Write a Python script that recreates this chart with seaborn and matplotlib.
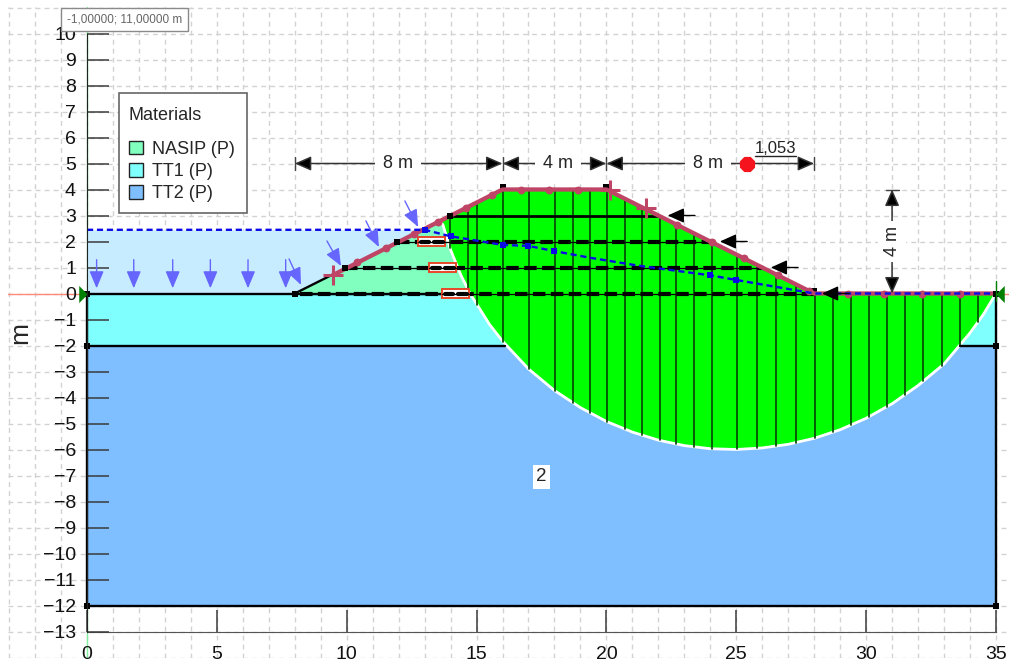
import numpy as np
import pandas as pd
import matplotlib
matplotlib.use('Agg')
import matplotlib.pyplot as plt
from matplotlib.patches import Patch, Rectangle
import seaborn as sns

# ground and layers
surface_x = [0, 8, 16, 20, 28, 35]
surface_y = [0, 0, 4, 4, 0, 0]
layer_names = ['NASIP (P)', 'TT1 (P)', 'TT2 (P)']
layer_colors = ['#80FFBF', '#80FFFF', '#80BFFF']

# water level
water_x = [0, 13.0, 14.0, 16.0, 17.0, 18.0, 19.4, 21.3, 24.0, 25.0, 28.0, 35.0]
water_y = [2.45, 2.45, 2.2, 1.87, 1.83, 1.63, 1.37, 1.06, 0.7, 0.52, 0.0, 0.0]
water_nodes_x = [13.0, 14.0, 16.0, 17.0, 18.0, 24.0, 25.0, 35.0]
water_nodes_y = [2.45, 2.2, 1.87, 1.83, 1.63, 0.7, 0.52, 0.0]

# slip surface
slip_x = [13.7, 14.0, 14.4, 14.75, 15.5, 16, 17, 18, 19, 20, 21, 22, 23, 24, 25,
          26, 27, 28, 29, 30, 31, 32, 33, 34, 34.5, 35]
slip_y = [2.66, 1.68, 0.70, 0.0, -1.19, -1.83, -2.90, -3.73, -4.39, -4.92, -5.33,
          -5.64, -5.85, -5.97, -6.0, -5.94, -5.80, -5.57, -5.24, -4.80, -4.24,
          -3.54, -2.71, -1.52, -0.83, 0.0]
slices = [13.98, 14.67, 15.02, 16.02, 17.02, 18.02, 18.71, 19.37, 20.02, 20.72, 21.37,
          22.06, 22.68, 23.37, 24.07, 25.03, 25.8, 26.53, 27.3, 28.03, 28.73, 29.42,
          30.11, 30.8, 31.5, 32.19, 32.92, 33.62, 34.31]

# reinforcements
reinf_y = [3, 2, 1, 0]
reinf_start = [13.98, 11.93, 9.93, 8.2]
reinf_end = [22.06, 24.07, 26.03, 28.0]
rect_left = [12.75, 13.17, 13.67]
rect_y = [2, 1, 0]

# loads
load_x = [0.37, 1.8, 3.3, 4.75, 6.2, 7.65]
normal_tail = [(7.78, 1.33), (9.24, 2.02), (10.74, 2.79), (12.24, 3.56)]
normal_tip = [(8.24, 0.33), (9.78, 1.06), (11.24, 1.79), (12.75, 2.56)]

# pink strip along the surface
strip_x = [9.47, 16, 20, 28, 35]
strip_y = [0.71, 4, 4, 0, 0]
strip_dots = [10.4, 11.5, 12.6, 13.5, 14.6, 15.6, 16.7, 17.8, 18.9, 22.7, 24.07, 25.3,
              26.6, 27.8, 29.3, 30.7, 32.15, 33.6]
cross_x = [9.47, 20.14, 21.52]
cross_y = [0.71, 3.98, 3.29]

node_x = [0, 8, 0, 35, 0, 35, 35, 13.98, 11.93, 9.93]
node_y = [0, 0, -2, -2, -12, -12, 0, 3, 2, 1]
under_node_x = [16, 20, 28]
under_node_y = [4.08, 4.08, 0.08]

sns.set_style('white')
plt.rcParams['font.family'] = ['Liberation Sans', 'DejaVu Sans']

W, H = 1018, 663
sx, sy = 25.97, 26.0
x0, y0 = 87, 293.5
xmin, xmax, ymin, ymax = -3.03, 35.52, -14.03, 11.03
fig = plt.figure(figsize=(W / 100, H / 100), dpi=100)
ax = fig.add_axes([(x0 + xmin * sx) / W, 1 - (y0 - ymin * sy) / H,
                   (xmax - xmin) * sx / W, (ymax - ymin) * sy / H])
ax.set_xlim(xmin, xmax)
ax.set_ylim(ymin, ymax)

# grid, drawn by hand so the ticks can stay above the layers
grid_style = dict(color='#D2D2D2', linestyle=(0, (3.5, 3)), linewidth=1, zorder=0.5)
for gx in range(-3, 36):
    ax.axvline(gx, **grid_style)
for gy in range(-14, 12):
    ax.axhline(gy, **grid_style)

ax.set_xticks(range(0, 36, 5))
ax.set_yticks(range(-13, 11))
ax.set_axisbelow(False)
ax.tick_params(axis='both', which='major', direction='in', length=16, width=1.1,
               left=True, bottom=True, color='#3A3A3A', labelsize=14, labelcolor='#111111', pad=8)
ax.tick_params(axis='x', pad=10.5)
for sp in ['top', 'right']:
    ax.spines[sp].set_visible(False)
ax.spines['left'].set_position(('data', 0))
ax.spines['left'].set_bounds(-13, 10)
ax.spines['bottom'].set_position(('data', -13))
ax.spines['bottom'].set_bounds(0, 35)
ax.spines['left'].set_color('#222222')
ax.spines['bottom'].set_color('#555555')
ax.spines['left'].set_zorder(9)
ax.text(-2.58, -1.52, 'm', rotation=90, fontsize=19, ha='center', va='center')

ax.axhline(0, color='#FF8A78', lw=1, zorder=1)
ax.axvline(0, color='#80F0A0', lw=1, zorder=1)

# layers
ax.fill_between([0, 35], -12, -2, color=layer_colors[2], lw=0, zorder=2)
ax.fill_between([0, 35], -2, 0, color=layer_colors[1], lw=0, zorder=2)
ax.fill_between(surface_x, 0, surface_y, color=layer_colors[0], lw=0, zorder=2)

# water above the ground
wx = np.linspace(0, 13.0, 60)
ax.fill_between(wx, np.interp(wx, surface_x, surface_y), np.interp(wx, water_x, water_y),
                color='#C8ECFF', lw=0, zorder=2)

# slip mass
top_x = [13.7, 16, 20, 28, 35]
top_y = [2.85, 4, 4, 0, 0]
ax.fill(slip_x + top_x[::-1], slip_y + top_y[::-1], color='#00FF00', lw=0, zorder=3)
sns.lineplot(x=slip_x, y=slip_y, sort=False, estimator=None, color='white', lw=2, ax=ax, zorder=4)

# slices
bot = np.interp(slices, slip_x, slip_y)
top = np.interp(slices, surface_x, surface_y)
sl = pd.DataFrame({'x': np.repeat(slices, 2), 'y': np.column_stack([top, bot]).ravel(),
                   'id': np.repeat(np.arange(len(slices)), 2)})
sns.lineplot(data=sl, x='x', y='y', units='id', estimator=None, sort=False,
             color='#084A08', lw=1.25, ax=ax, zorder=5)

# boundaries
boundary = pd.DataFrame({'x': [0, 14.75, 0, 16.1, 33.6, 35, 0, 35, 0, 0, 35, 35, 8, 9.5, 20, 21.5],
                         'y': [0, 0, -2, -2, -2, -2, -12, -12, 0, -12, 0, -12, 0, 0.75, 4, 3.25],
                         'id': np.repeat(np.arange(8), 2)})
sns.lineplot(data=boundary, x='x', y='y', units='id', estimator=None, sort=False,
             color='black', lw=1.7, ax=ax, zorder=5)
ax.plot([28, 35], [0, 0], color='black', lw=1.2, zorder=5)

# reinforcements
force = dict(arrowstyle='-|>,head_length=1.0,head_width=0.45', fc='black', ec='black', lw=1,
             shrinkA=0, shrinkB=0)
for y, a, b in zip(reinf_y, reinf_start, reinf_end):
    if y == 3:
        ax.plot([a, b], [y, y], color='black', lw=2, zorder=6, solid_capstyle='butt')
    else:
        ax.plot([a, b], [y, y], color='black', lw=0.9, zorder=6)
        ax.plot([a, b], [y, y], color='black', lw=3, linestyle=(0, (3.0, 1.3)), zorder=6)
    # force arrow at the end
    ax.annotate('', xy=(b + 0.3, y), xytext=(b + 1.35, y), zorder=9, arrowprops=force)

# boxes where reinforcements cross the slip
for a, y in zip(rect_left, rect_y):
    ax.add_patch(Rectangle((a, y - 0.165), 1.05, 0.33, fc='white', ec='#E8472A', lw=1.4, zorder=6.5))
    ax.plot([a, a + 1.05], [y, y], color='black', lw=0.9, zorder=6.6)
    ax.plot([a + 0.1, a + 0.42], [y, y], color='black', lw=3, zorder=6.6)
    ax.plot([a + 0.6, a + 0.95], [y, y], color='black', lw=3, zorder=6.6)

# water line
sns.lineplot(x=water_x, y=water_y, sort=False, estimator=None, color='#0A0AE6', lw=1.7,
             linestyle=(0, (2.6, 1.6)), ax=ax, zorder=7)
sns.scatterplot(x=water_nodes_x, y=water_nodes_y, color='#0A0AE6', marker='s', s=14, lw=0, ax=ax, zorder=7.5)

# pink strip
pink = '#BE4565'
sns.scatterplot(x=under_node_x, y=under_node_y, color='black', marker='s', s=14, lw=0, ax=ax, zorder=6.7)
sns.lineplot(x=strip_x, y=strip_y, sort=False, estimator=None, color=pink, lw=3.1, ax=ax, zorder=6.8)
sns.scatterplot(x=strip_dots, y=np.interp(strip_dots, surface_x, surface_y), color=pink, s=32, lw=0, ax=ax, zorder=6.9)
sns.scatterplot(x=cross_x, y=cross_y, color=pink, marker='+', s=190, linewidth=2.2, ax=ax, zorder=6.9)

# nodes
sns.scatterplot(x=node_x, y=node_y, color='black', marker='s', s=22, lw=0, ax=ax, zorder=8)

# load arrows
blue = '#6666FF'
arrow_style = dict(arrowstyle='-|>,head_length=1.05,head_width=0.44', fc=blue, ec=blue, lw=1,
                   shrinkA=0, shrinkB=0)
for x in load_x:
    ax.annotate('', xy=(x, 0.2), xytext=(x, 1.3), arrowprops=arrow_style, zorder=9)
for t, p in zip(normal_tail, normal_tip):
    ax.annotate('', xy=p, xytext=t, arrowprops=arrow_style, zorder=9)

# supports
sns.scatterplot(x=[-0.17], y=[0], color='#007F00', marker=[(-0.5, -1), (0.5, 0), (-0.5, 1)],
                s=150, lw=0, ax=ax, zorder=8.5)
sns.scatterplot(x=[35.17], y=[0], color='#007F00', marker=[(0.5, -1), (-0.5, 0), (0.5, 1)],
                s=150, lw=0, ax=ax, zorder=8.5)
ax.plot([35, 35], [-0.3, 0.5], color='#007F00', lw=1, zorder=8.4)

# dimensions
dim = dict(arrowstyle='-|>,head_length=1.0,head_width=0.44', fc='black', ec='#333333', lw=1.1,
           shrinkA=0, shrinkB=0)
dim_x = [8, 16, 20, 28]
dim_labels = ['8 m', '4 m', '8 m']
dim_text_x = [11.97, 18.14, 23.9]
for a, b, s, tx in zip(dim_x[:-1], dim_x[1:], dim_labels, dim_text_x):
    ax.annotate('', xy=(a, 5), xytext=(tx, 5), arrowprops=dim, zorder=6)
    ax.annotate('', xy=(b, 5), xytext=(tx, 5), arrowprops=dim, zorder=6)
    ax.text(tx, 5, s, ha='center', va='center', fontsize=13, zorder=7,
            bbox=dict(fc='white', ec='none', pad=5.8))
for x in dim_x:
    ax.plot([x, x], [4.75, 5.25], color='#444444', lw=1, zorder=6)

ax.annotate('', xy=(31, 4), xytext=(31, 2), arrowprops=dim, zorder=9)
ax.annotate('', xy=(31, 0), xytext=(31, 2), arrowprops=dim, zorder=9)
ax.plot([30.75, 31.25], [4, 4], color='#444444', lw=1, zorder=6)
ax.text(31, 2, '4 m', rotation=90, ha='center', va='center', fontsize=13, zorder=10,
        bbox=dict(fc='white', ec='none', pad=4))

# safety factor
sns.scatterplot(x=[25.4], y=[5], color='#F5141E', marker='8', s=140, lw=0, ax=ax, zorder=8)
ax.text(26.5, 5.27, '1,053', fontsize=12, ha='center', va='bottom', color='#222222', zorder=8)
ax.plot([25.73, 27.3], [5.3, 5.3], color='#222222', lw=1, zorder=8)

ax.text(17.5, -7.05, '2', fontsize=13.5, ha='center', va='center', zorder=8,
        bbox=dict(fc='white', ec='none', pad=2.5))

# coordinates box
ax.text(-0.77, 10.54, '-1,00000; 11,00000 m', fontsize=8.5, color='#666666', ha='left', va='center', zorder=12,
        bbox=dict(fc='white', ec='#8A8A8A', lw=1, boxstyle='square,pad=0.5'))

# legend
ax.add_patch(Rectangle((119 / W, 1 - 213 / H), 128 / W, 120 / H, transform=fig.transFigure,
                       fc='white', ec='#666666', lw=1.2, zorder=10.5))
handles = [Patch(fc=c, ec='#222222', lw=1) for c in layer_colors]
leg = ax.legend(handles, layer_names, title='Materials', fontsize=13, title_fontsize=13,
                alignment='left', loc='upper left', bbox_to_anchor=(129 / W, 1 - 107 / H),
                bbox_transform=fig.transFigure, borderaxespad=0, frameon=False, labelspacing=0.28,
                handlelength=0.79, handleheight=0.79, handletextpad=0.5, borderpad=0)
leg._legend_box.sep = 12
leg.set_zorder(11)

ax.set_xlabel('')
ax.set_ylabel('')
fig.savefig('out.png', dpi=100)
